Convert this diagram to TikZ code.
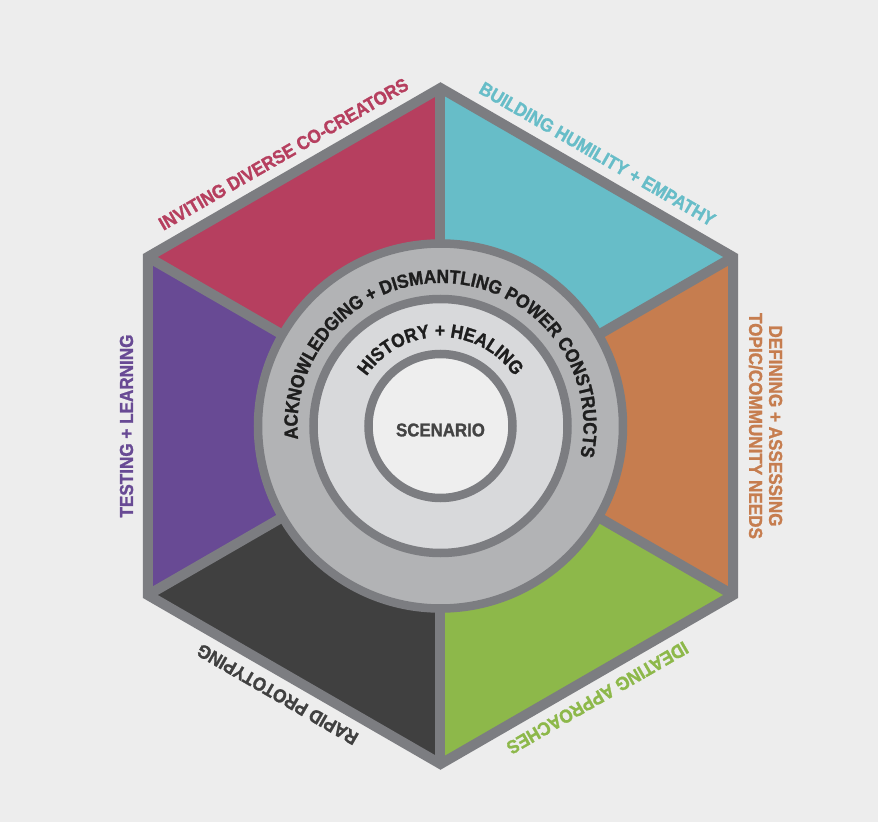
\documentclass[tikz,border=0pt]{standalone}
\usepackage{fontspec}
\newfontfamily\lblfam[FakeStretch=0.91, FakeBold=1.3]{Liberation Sans}
\usetikzlibrary{decorations.text}
\definecolor{bg}{HTML}{EDEDED}
\definecolor{cpink}{HTML}{B63F5F}
\definecolor{ccyan}{HTML}{67BDC8}
\definecolor{corange}{HTML}{C67D4F}
\definecolor{cgreen}{HTML}{8DB84A}
\definecolor{cdark}{HTML}{404040}
\definecolor{cpurple}{HTML}{684A94}
\definecolor{cline}{HTML}{7C7D81}
\definecolor{ringA}{HTML}{B2B3B5}
\definecolor{ringB}{HTML}{D8D9DB}
\definecolor{ringC}{HTML}{EEEEEE}
\definecolor{ringtxt}{HTML}{1E1E1E}
\definecolor{scentxt}{HTML}{444444}
\newcommand\myringfont{\lblfam\bfseries\fontsize{19}{20}\selectfont\color{ringtxt}}
\tikzset{
  hexline/.style={draw=cline, line width=10pt, line join=miter},
  ringline/.style={draw=cline, line width=8.5pt},
  lbltxt/.style={font=\lblfam\bfseries\fontsize{18.8}{20}\selectfont, inner sep=0pt, align=center},
}
\begin{document}
\begin{tikzpicture}[x=1pt,y=1pt]
\useasboundingbox[fill=bg] (-440.5,-396) rectangle (437.5,426);
% segments
\fill[cpink]   (0,0) -- (150:338) -- (90:338) -- cycle;
\fill[ccyan]   (0,0) -- (90:338) -- (30:338) -- cycle;
\fill[corange] (0,0) -- (30:338) -- (-30:338) -- cycle;
\fill[cgreen]  (0,0) -- (-30:338) -- (-90:338) -- cycle;
\fill[cdark]   (0,0) -- (-90:338) -- (-150:338) -- cycle;
\fill[cpurple] (0,0) -- (-150:338) -- (150:338) -- cycle;
\foreach \a in {90,30,-30,-90,-150,150} \draw[hexline] (0,0) -- (\a:338);
\draw[hexline] (90:338) -- (30:338) -- (-30:338) -- (-90:338) -- (-150:338) -- (150:338) -- cycle;
% rings
\draw[ringline, fill=ringA] (0,0) circle (182.5);
\draw[ringline, fill=ringB] (0,0) circle (127);
\draw[ringline, fill=ringC] (0,0) circle (72);
% ring texts
\path[decorate, decoration={text along path, text align=center,
  text={|\myringfont|ACKNOWLEDGING + DISMANTLING POWER CONSTRUCTS}}]
  (190:143) arc (190:-17:143);
\path[decorate, decoration={text along path, text align=center,
  text={|\myringfont|HISTORY + HEALING}}]
  (150:89) arc (150:30:89);
\node[lbltxt, text=scentxt, font=\lblfam\bfseries\fontsize{18.5}{20}\selectfont] (scen) at (0,-4) {SCENARIO};
% outer labels
\node[lbltxt, text=cpink, rotate=30] (l1) at (120:314) {INVITING DIVERSE CO-CREATORS};
\node[lbltxt, text=ccyan, rotate=-30] (l2) at (60:314) {BUILDING HUMILITY + EMPATHY};
\node[lbltxt, text=corange, rotate=-90] (l3) at (0:325) {DEFINING + ASSESSING\\TOPIC/COMMUNITY NEEDS};
\node[lbltxt, text=cgreen, rotate=-150] (l4) at (-60:314) {IDEATING APPROACHES};
\node[lbltxt, text=cdark, rotate=150] (l5) at ([shift={(-6,3.5)}]-120:314) {RAPID PROTOTYPING};
\node[lbltxt, text=cpurple, rotate=90] (l6) at (180:314) {TESTING + LEARNING};
\end{tikzpicture}
\end{document}
